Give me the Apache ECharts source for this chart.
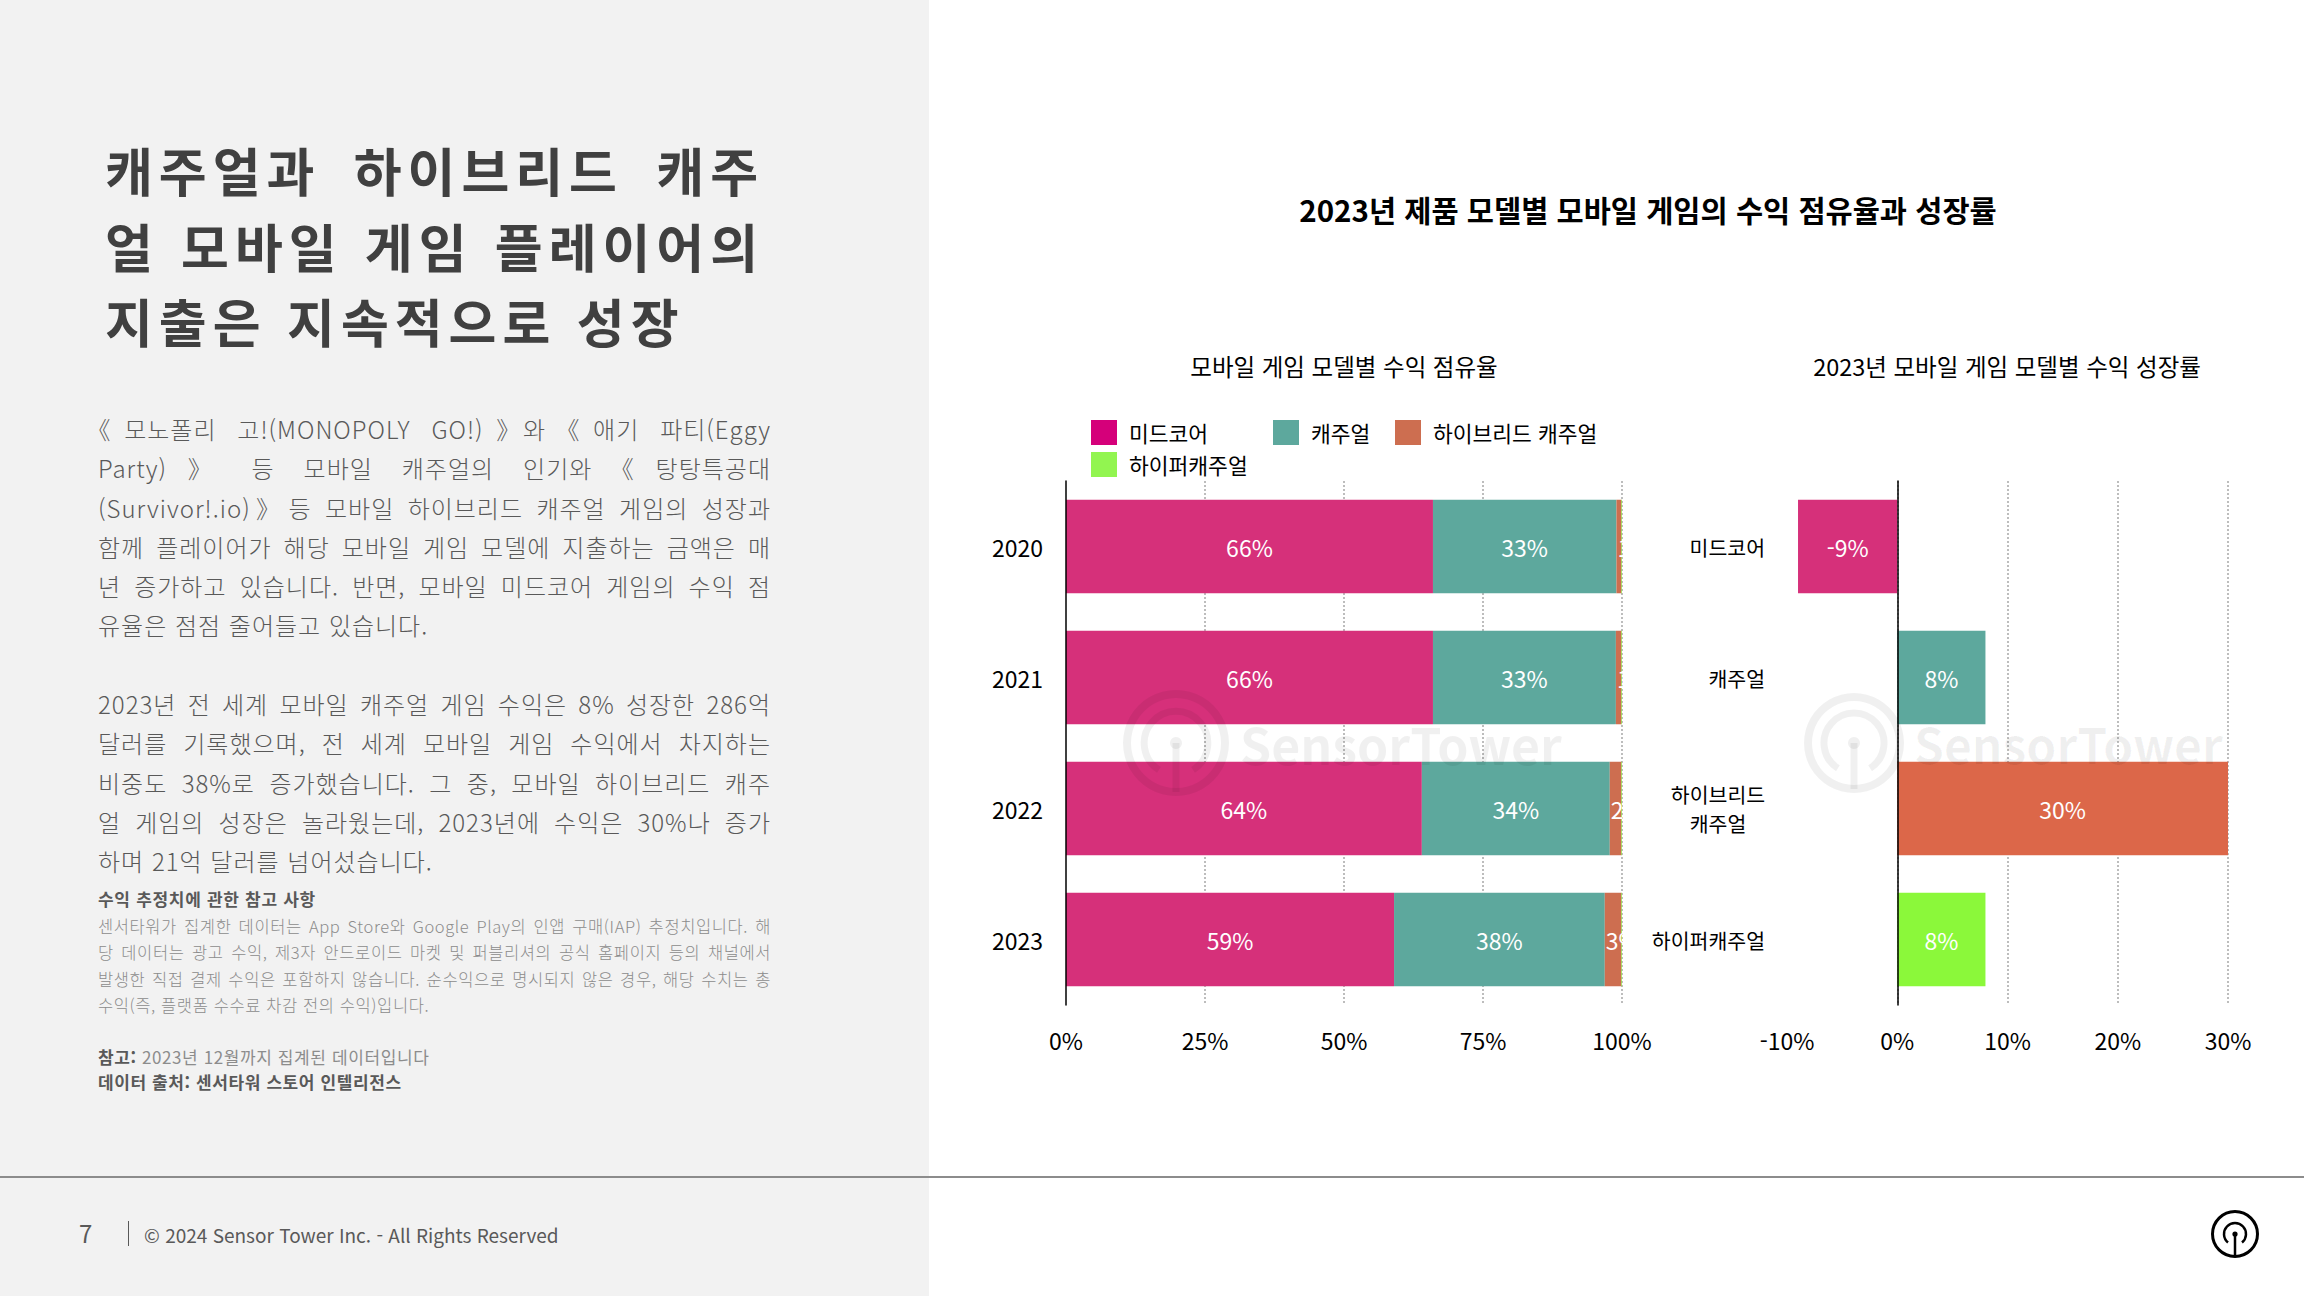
<!DOCTYPE html>
<html lang="ko">
<head>
<meta charset="utf-8">
<script src="https://cdn.jsdelivr.net/npm/echarts@6/dist/echarts.min.js"></script>
<style>
html,body{margin:0;padding:0;width:2304px;height:1296px;overflow:hidden;background:#fff;font-family:'Noto Sans CJK KR','Noto Sans',sans-serif;}
#left{position:absolute;left:0;top:0;width:929px;height:1296px;background:#f2f2f2;}
#divider{position:absolute;left:0;top:1176px;width:2304px;height:2px;background:#8c8c8c;}
.blk{position:absolute;}
.j{text-align:justify;text-align-last:justify;white-space:nowrap;}
.l{text-align:left;text-align-last:auto;white-space:nowrap;}
.p{font-feature-settings:"palt";}
#title{left:105px;top:132px;width:659px;font-size:52px;line-height:75.5px;font-weight:700;color:#404040;letter-spacing:6px;}
.para{left:98px;width:673px;font-size:24px;line-height:39.3px;color:#595959;font-weight:300;letter-spacing:1px;}
#p1{top:409px;}
#p2{top:684px;}
#nh{left:98px;top:886px;font-size:17px;line-height:26px;font-weight:700;color:#595959;letter-spacing:0.7px;}
#nb{left:98px;top:913px;width:673px;font-size:16.5px;line-height:26.3px;color:#8c8c8c;font-weight:300;letter-spacing:0.6px;}
#src{left:98px;top:1044px;font-size:17px;line-height:25px;color:#8c8c8c;letter-spacing:0.6px;}
#src b{color:#595959;}
#pg{left:79px;top:1221px;font-size:24px;line-height:24px;color:#595959;}
#bar{position:absolute;left:128px;top:1221px;width:1px;height:25px;background:#595959;}
#copy{left:144px;top:1225px;font-size:19px;line-height:19px;color:#595959;}
#logo{position:absolute;left:2210px;top:1210px;}
#chart{position:absolute;left:0;top:0;width:2304px;height:1296px;}
</style>
</head>
<body>
<div id="left"></div>
<div id="divider"></div>
<div id="title" class="blk">
  <div class="j">캐주얼과 하이브리드 캐주</div>
  <div class="j">얼 모바일 게임 플레이어의</div>
  <div class="l">지출은 지속적으로 성장</div>
</div>
<div id="p1" class="blk para">
  <div class="j"><span class="p">《</span>모노폴리 고!(MONOPOLY GO!)<span class="p">》</span>와 <span class="p">《</span>애기 파티(Eggy</div>
  <div class="j">Party)<span class="p">》</span> 등 모바일 캐주얼의 인기와 <span class="p">《</span>탕탕특공대</div>
  <div class="j">(Survivor!.io)<span class="p">》</span> 등 모바일 하이브리드 캐주얼 게임의 성장과</div>
  <div class="j">함께 플레이어가 해당 모바일 게임 모델에 지출하는 금액은 매</div>
  <div class="j">년 증가하고 있습니다. 반면, 모바일 미드코어 게임의 수익 점</div>
  <div class="l">유율은 점점 줄어들고 있습니다.</div>
</div>
<div id="p2" class="blk para">
  <div class="j">2023년 전 세계 모바일 캐주얼 게임 수익은 8% 성장한 286억</div>
  <div class="j">달러를 기록했으며, 전 세계 모바일 게임 수익에서 차지하는</div>
  <div class="j">비중도 38%로 증가했습니다. 그 중, 모바일 하이브리드 캐주</div>
  <div class="j">얼 게임의 성장은 놀라웠는데, 2023년에 수익은 30%나 증가</div>
  <div class="l">하며 21억 달러를 넘어섰습니다.</div>
</div>
<div id="nh" class="blk">수익 추정치에 관한 참고 사항</div>
<div id="nb" class="blk">
  <div class="j">센서타워가 집계한 데이터는 App Store와 Google Play의 인앱 구매(IAP) 추정치입니다. 해</div>
  <div class="j">당 데이터는 광고 수익, 제3자 안드로이드 마켓 및 퍼블리셔의 공식 홈페이지 등의 채널에서</div>
  <div class="j">발생한 직접 결제 수익은 포함하지 않습니다. 순수익으로 명시되지 않은 경우, 해당 수치는 총</div>
  <div class="l">수익(즉, 플랫폼 수수료 차감 전의 수익)입니다.</div>
</div>
<div id="src" class="blk">
  <div><b>참고:</b> 2023년 12월까지 집계된 데이터입니다</div>
  <div><b>데이터 출처: 센서타워 스토어 인텔리전스</b></div>
</div>
<div id="pg" class="blk">7</div>
<div id="bar"></div>
<div id="copy" class="blk">© 2024 Sensor Tower Inc. - All Rights Reserved</div>
<svg id="logo" width="50" height="50" viewBox="0 0 50 50">
  <circle cx="25" cy="24" r="22.5" fill="none" stroke="#000" stroke-width="3"/>
  <path d="M 18 32.5 A 11 11 0 1 1 32 32.5" fill="none" stroke="#000" stroke-width="2.5"/>
  <line x1="25" y1="24" x2="25" y2="46" stroke="#000" stroke-width="2.5"/>
  <circle cx="25" cy="24" r="2.6" fill="#000"/>
</svg>
<div id="chart"></div>
<script>
// ---- data ----
const years = ['2020', '2021', '2022', '2023'];
const seriesNames = ['미드코어', '캐주얼', '하이브리드 캐주얼', '하이퍼캐주얼'];
const shareMidcore = [66.0, 66.0, 64.0, 59.0];
const shareCasual = [33.0, 32.9, 33.8, 37.9];
const shareHybrid = [0.9, 1.0, 2.1, 3.0];
const shareHyper = [0.1, 0.1, 0.1, 0.1];
const growthCategories = ['미드코어', '캐주얼', '하이브리드\n캐주얼', '하이퍼캐주얼'];
const growthValues = [-9, 8, 30, 8];
const shareTicks = {min: 0, max: 100, interval: 25};
const growthTicks = {min: -10, max: 30, interval: 10};
const mainTitle = '2023년 제품 모델별 모바일 게임의 수익 점유율과 성장률';
const subTitleShare = '모바일 게임 모델별 수익 점유율';
const subTitleGrowth = '2023년 모바일 게임 모델별 수익 성장률';

// ---- styles ----
const FONT = "'Noto Sans CJK KR','Noto Sans',sans-serif";
const barColors = ['#D6307A', '#5DA89D', '#CD6E50', '#8BF83A'];
const growthColors = ['#D6307A', '#5DA89D', '#DC6749', '#8BF83A'];
const legendColors = ['#D5007A', '#5DA89D', '#CD6E50', '#92F550'];
const gridLine = {show: true, showMinLine: false, lineStyle: {type: 'dotted', color: '#BDBDBD', width: 2}};
const WM = 'rgba(0,0,0,0.06)';

function watermark(cx, cy, r, tx, fs) {
  return [
    {type: 'ring', shape: {cx: cx, cy: cy, r: r, r0: r - 8}, style: {fill: WM}, z: 50, silent: true},
    {type: 'arc', shape: {cx: cx, cy: cy, r: r * 0.6, startAngle: Math.PI * 0.68, endAngle: Math.PI * 2.32, clockwise: true},
      style: {stroke: WM, lineWidth: 7, fill: null}, z: 50, silent: true},
    {type: 'line', shape: {x1: cx, y1: cy, x2: cx, y2: cy + r - 4}, style: {stroke: WM, lineWidth: 7}, z: 50, silent: true},
    {type: 'circle', shape: {cx: cx, cy: cy, r: 6}, style: {fill: WM}, z: 50, silent: true},
    {type: 'text', x: tx, y: cy, style: {text: 'SensorTower', fontSize: fs, fontWeight: 600, fontFamily: FONT, fill: WM, verticalAlign: 'middle'}, z: 50, silent: true}
  ];
}

function legendItem(i, left, top) {
  return {
    data: [{name: seriesNames[i], itemStyle: {color: legendColors[i]}}],
    left: left, top: top, padding: 0, orient: 'horizontal',
    itemWidth: 26, itemHeight: 25, icon: 'rect', selectedMode: false,
    textStyle: {fontSize: 21.5, color: '#000', fontFamily: FONT, padding: [0, 0, 0, 7]}
  };
}

const shareData = [shareMidcore, shareCasual, shareHybrid, shareHyper];
const shareSeries = shareData.map(function (d, i) {
  let label;
  if (i < 2) label = {show: true, position: 'inside', color: '#fff', fontSize: 23, fontFamily: FONT, formatter: p => Math.round(p.value) + '%'};
  else if (i === 2) label = {show: true, position: 'insideLeft', distance: 1, color: '#fff', fontSize: 23, fontFamily: FONT, formatter: p => Math.round(p.value) + '%'};
  else label = {show: false};
  return {
    name: seriesNames[i], type: 'bar', stack: 'share', xAxisIndex: 0, yAxisIndex: 0,
    data: d, barCategoryGap: '28.6%', itemStyle: {color: barColors[i]}, label: label, z: 2
  };
});

const growthSeries = {
  name: '성장률', type: 'bar', xAxisIndex: 1, yAxisIndex: 1,
  data: growthValues.map((v, i) => ({value: v, itemStyle: {color: growthColors[i]}})),
  barCategoryGap: '28.6%',
  label: {show: true, position: 'inside', color: '#fff', fontSize: 23, fontFamily: FONT, formatter: p => p.value + '%'},
  z: 2
};

const option = {
  animation: false,
  textStyle: {fontFamily: FONT},
  graphic: [
    {type: 'text', x: 1648, y: 209, style: {text: mainTitle, fontSize: 29.5, fontWeight: 700, fontFamily: FONT, fill: '#000', align: 'center', verticalAlign: 'middle'}},
    {type: 'text', x: 1344, y: 366, style: {text: subTitleShare, fontSize: 23.5, fontFamily: FONT, fill: '#000', align: 'center', verticalAlign: 'middle'}},
    {type: 'text', x: 2007, y: 366, style: {text: subTitleGrowth, fontSize: 23.5, fontFamily: FONT, fill: '#000', align: 'center', verticalAlign: 'middle'}},
    {type: 'rect', shape: {x: 1624, y: 490, width: 20, height: 510}, style: {fill: '#fff'}, z: 100, silent: true}
  ].concat(watermark(1176, 743, 53, 1240, 50), watermark(1854, 743, 50, 1914, 48)),
  legend: [
    legendItem(0, 1091, 420),
    legendItem(1, 1273, 420),
    legendItem(2, 1395, 420),
    legendItem(3, 1091, 452)
  ],
  grid: [
    {left: 1066, top: 481, width: 556, height: 524, containLabel: false, outerBoundsMode: 'none'},
    {left: 1787, top: 481, width: 441, height: 524, containLabel: false, outerBoundsMode: 'none'}
  ],
  xAxis: [
    {type: 'value', gridIndex: 0, min: shareTicks.min, max: shareTicks.max, interval: shareTicks.interval,
      axisLine: {show: false}, axisTick: {show: false},
      axisLabel: {formatter: '{value}%', fontSize: 23, color: '#000', margin: 23, fontFamily: FONT},
      splitLine: gridLine},
    {type: 'value', gridIndex: 1, min: growthTicks.min, max: growthTicks.max, interval: growthTicks.interval,
      axisLine: {show: false}, axisTick: {show: false},
      axisLabel: {formatter: '{value}%', fontSize: 23, color: '#000', margin: 23, fontFamily: FONT},
      splitLine: gridLine}
  ],
  yAxis: [
    {type: 'category', gridIndex: 0, data: years, inverse: true, z: 5,
      axisLine: {show: true, lineStyle: {color: '#000', width: 1.5}}, axisTick: {show: false},
      axisLabel: {fontSize: 23, color: '#000', margin: 23, fontFamily: FONT}, splitLine: {show: false}},
    {type: 'category', gridIndex: 1, data: growthCategories, inverse: true, z: 5,
      axisLine: {show: true, lineStyle: {color: '#000', width: 1.5}}, axisTick: {show: false},
      axisLabel: {fontSize: 20.5, color: '#000', margin: 22, fontFamily: FONT, lineHeight: 29,
        formatter: function (v) {
          if (v.indexOf('\n') >= 0) return v.split('\n').map(s => '{c|' + s + '}').join('\n');
          return v;
        },
        rich: {c: {width: 94, align: 'center', fontSize: 20.5, lineHeight: 29, color: '#000', fontFamily: FONT}}},
      splitLine: {show: false}}
  ],
  series: shareSeries.concat([growthSeries])
};

const chart = echarts.init(document.getElementById('chart'), null, {renderer: 'svg'});
chart.setOption(option);
</script>
</body>
</html>
